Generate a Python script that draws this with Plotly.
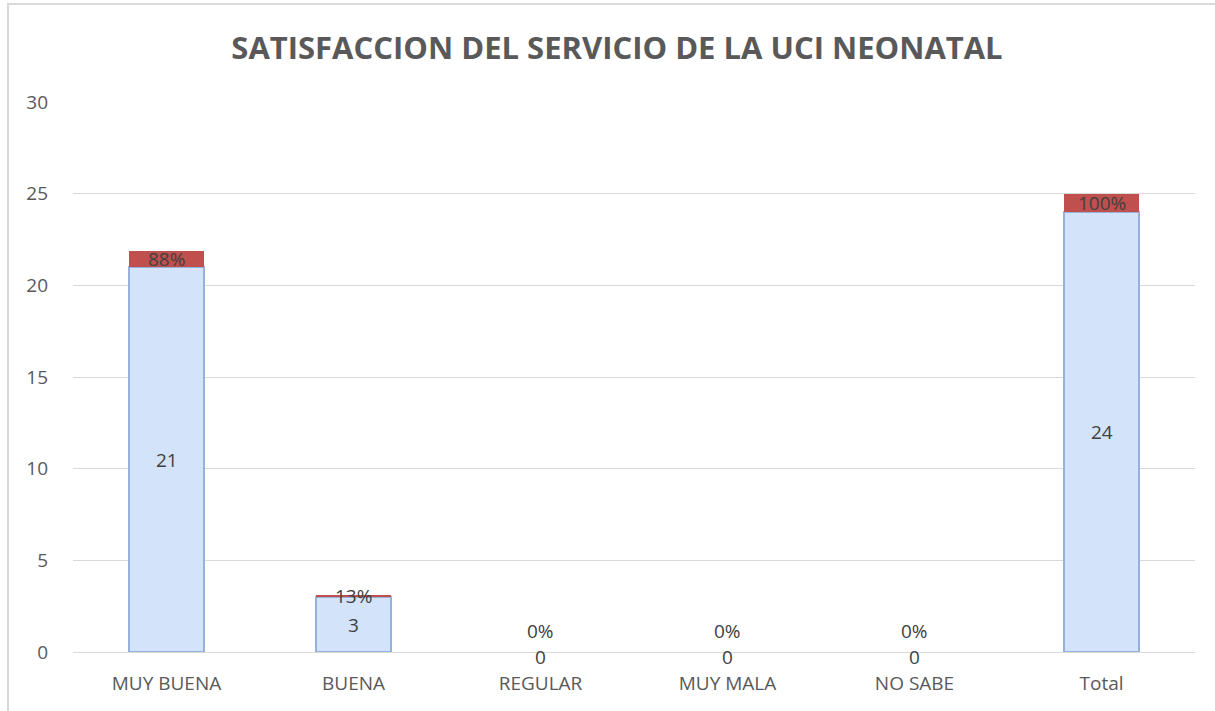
import plotly.graph_objects as go

categories = ["MUY BUENA", "BUENA", "REGULAR", "MUY MALA", "NO SABE", "Total"]
frecuencia = [21, 3, 0, 0, 0, 24]
porcentaje = [0.88, 0.13, 0.0, 0.0, 0.0, 1.0]
pct_labels = ["88%", "13%", "0%", "0%", "0%", "100%"]
y_ticks = [0, 5, 10, 15, 20, 25, 30]

FONT = "Open Sans"
GREY = "#595959"

fig = go.Figure()
fig.add_trace(go.Bar(
    x=categories, y=frecuencia, name="Frecuencia",
    marker=dict(color="#d3e3f9",
                line=dict(color="#97b1dd", width=[2 if f > 0 else 0 for f in frecuencia])),
    hoverinfo="y",
))
fig.add_trace(go.Bar(
    x=categories, y=porcentaje, name="Porcentaje",
    marker=dict(color="#c0504d", line=dict(width=0)),
    hoverinfo="y",
))

annotations = []
for c, f, p, pl in zip(categories, frecuencia, porcentaje, pct_labels):
    annotations.append(dict(x=c, y=f / 2, text=str(f), showarrow=False,
                            yshift=(-5 if f == 0 else 0), borderpad=0,
                            font=dict(family=FONT, size=19, color="#404040")))
    annotations.append(dict(x=c, y=f + p / 2, text=pl, showarrow=False,
                            yshift=(21 if p == 0 else 0), borderpad=0,
                            font=dict(family=FONT, size=19, color="#404040")))

fig.update_layout(
    barmode="stack",
    bargap=0.6,
    width=1215, height=711,
    paper_bgcolor="white", plot_bgcolor="white",
    margin=dict(l=73, r=20, t=102, b=59),
    showlegend=False,
    title=dict(text="<b>SATISFACCION DEL SERVICIO DE LA UCI NEONATAL</b>",
               x=617 / 1215, xanchor="center",
               y=1 - 48 / 711, yanchor="middle",
               font=dict(family=FONT, size=31, color=GREY)),
    annotations=annotations,
    shapes=[dict(type="rect", xref="paper", yref="paper",
                 x0=(8 - 73) / 1122, x1=1.05, y0=-0.2, y1=(652 - 4) / 550,
                 line=dict(color="#d9d9d9", width=2), fillcolor="rgba(0,0,0,0)",
                 layer="below")],
)
fig.update_layout(title_xref="container")
fig.update_yaxes(range=[0, 30], tickvals=y_ticks, showgrid=True,
                 gridcolor="#d9d9d9", gridwidth=1, zeroline=False,
                 showline=False, ticks="", ticklabelstandoff=24,
                 tickfont=dict(family=FONT, size=19, color=GREY))
fig.update_xaxes(showline=True, linecolor="#d9d9d9", linewidth=1,
                 ticks="", tickfont=dict(family=FONT, size=19, color=GREY),
                 ticklabelstandoff=14)

fig.write_html("out.html", config={"displayModeBar": False},
               post_script="document.body.style.margin='0';")
